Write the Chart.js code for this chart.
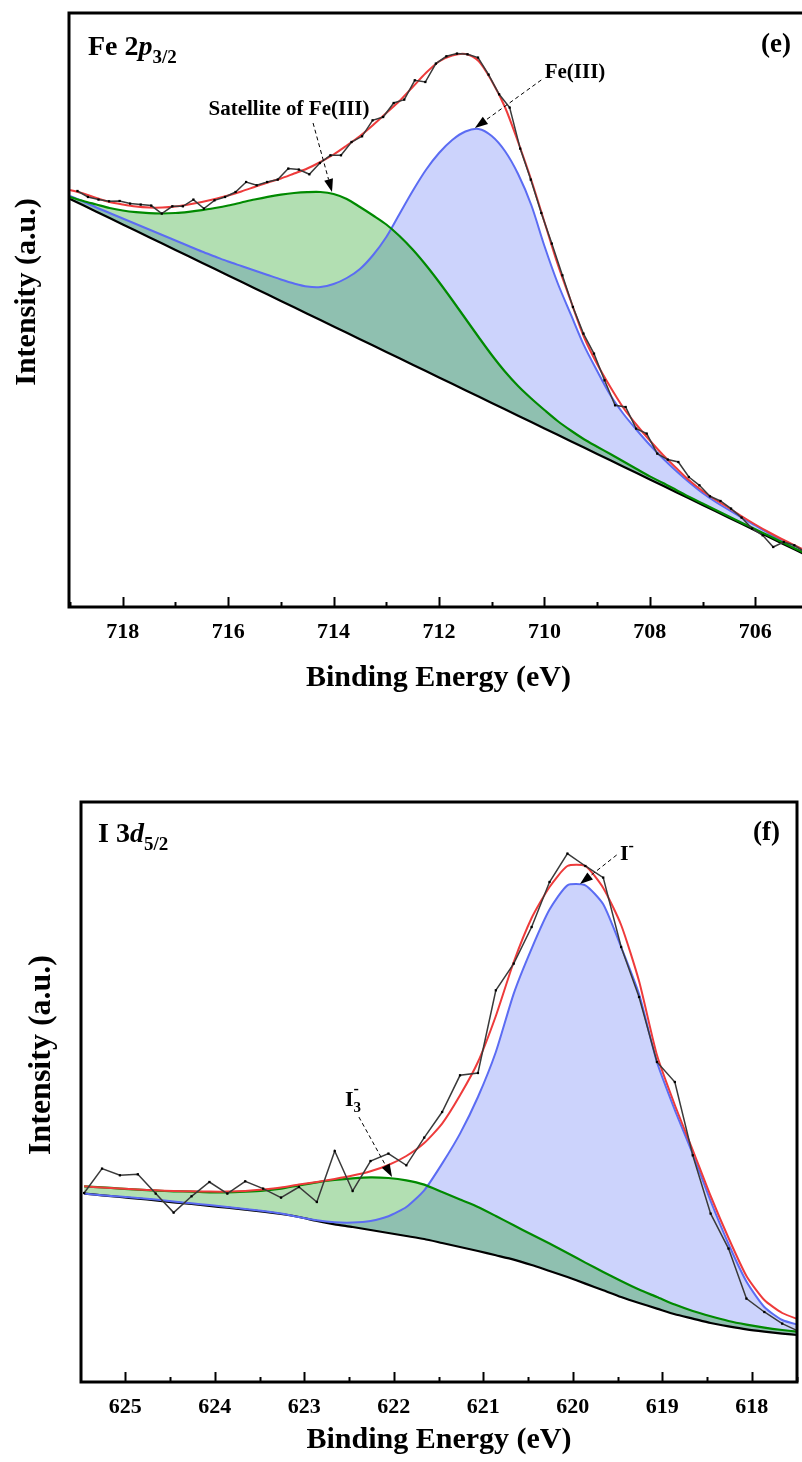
<!DOCTYPE html>
<html lang="en">
<head>
<meta charset="UTF-8">
<title>XPS Fe 2p3/2 and I 3d5/2</title>
<script src="https://cdn.jsdelivr.net/npm/chart.js"></script>
<style>
  html, body { margin: 0; padding: 0; background: #fff; overflow: hidden; }
  body { width: 802px; height: 1462px; position: relative; }
  canvas { position: absolute; left: 0; }
  #feChart { top: 0; }
  #iChart { top: 720px; }
</style>
</head>
<body>
<canvas id="feChart" width="812" height="700"></canvas>
<canvas id="iChart" width="802" height="742"></canvas>

<script>
// ---------- (e) Fe 2p3/2 ----------
const feTicks = [706, 708, 710, 712, 714, 716, 718];
// raw spectrum, 0.2 eV steps
const feRawE = [718.86, 718.66, 718.46, 718.26, 718.06, 717.86, 717.66, 717.46, 717.26, 717.06,
                716.86, 716.66, 716.46, 716.26, 716.06, 715.86, 715.66, 715.46, 715.26, 715.06,
                714.86, 714.66, 714.46, 714.26, 714.06, 713.86, 713.66, 713.46, 713.26, 713.06,
                712.86, 712.66, 712.46, 712.26, 712.06, 711.86, 711.66, 711.46, 711.26, 711.06,
                710.86, 710.66, 710.46, 710.26, 710.06, 709.86, 709.66, 709.46, 709.26, 709.06,
                708.86, 708.66, 708.46, 708.26, 708.06, 707.86, 707.66, 707.46, 707.26, 707.06,
                706.86, 706.66, 706.46, 706.26, 706.06, 705.86, 705.66, 705.46, 705.26, 705.06];
const feRaw = [416, 410, 407.4, 405.7, 406, 403.4, 402.4, 401.4, 393.4, 400.7,
               400.7, 407.4, 398.4, 406.7, 410, 415, 425, 421.7, 425, 427.4,
               438.4, 437.4, 432.7, 444, 451.7, 451.7, 465, 470.7, 486.7, 490,
               504, 507.4, 526.7, 525, 543.4, 550.7, 553.4, 552.7, 549.4, 532.4,
               512.7, 499.4, 458.4, 427.4, 394, 363.4, 331.7, 300, 273.4, 253.4,
               226.7, 201.7, 200, 178.4, 173.4, 153.4, 147.4, 145, 130, 121.7,
               110.7, 106, 98.4, 89.4, 78.4, 71.7, 60, 65, 61.7, 55];
// fitted curves, 0.25 eV steps
const feFitE = [719.0, 718.75, 718.5, 718.25, 718.0, 717.75, 717.5, 717.25, 717.0, 716.75,
                716.5, 716.25, 716.0, 715.75, 715.5, 715.25, 715.0, 714.75, 714.5, 714.25,
                714.0, 713.75, 713.5, 713.25, 713.0, 712.75, 712.5, 712.25, 712.0, 711.75,
                711.5, 711.25, 711.0, 710.75, 710.5, 710.25, 710.0, 709.75, 709.5, 709.25,
                709.0, 708.75, 708.5, 708.25, 708.0, 707.75, 707.5, 707.25, 707.0, 706.75,
                706.5, 706.25, 706.0, 705.75, 705.5, 705.25, 705.0];
const feEnvelope = [417, 413.5, 409, 405, 402.5, 400.5, 399.5, 399.5, 400.5, 402.5,
                    405, 408, 411.5, 415.5, 420, 424.5, 428.5, 433.5, 438.5, 445,
                    452.5, 461.5, 471, 482, 494, 506, 520, 534, 545.5, 551.5,
                    553, 546, 526, 500, 465, 427, 385, 343, 306, 270,
                    243, 220, 199, 182, 166.5, 152, 139, 126.5, 116, 107,
                    99, 90.5, 82.5, 75, 68, 61.5, 55];
const feSatellite = [410, 406, 402.5, 399, 396.5, 394.8, 393.8, 393.5, 394, 395.2,
                     396.8, 399, 401.5, 404.5, 407.5, 410.2, 412.4, 414, 414.9, 415,
                     413, 408, 400, 391.5, 382.5, 371, 357.5, 342, 325, 307,
                     288.5, 270, 252, 235.5, 221, 208.5, 197, 186, 176.5, 167.8,
                     160.3, 153, 145.5, 138, 130.6, 124, 117, 110, 103.5, 97,
                     90.5, 84, 77.8, 71.4, 65, 58.6, 52.2];
const feIII = [411, 405.5, 399.5, 394, 388.5, 383, 377.5, 372, 366.5, 361,
               355.5, 350.5, 345.5, 341, 336.5, 332, 327.5, 323.5, 320.5, 320,
               323, 329, 338, 352, 370, 393, 416, 437, 454, 467,
               475.5, 478, 471, 456, 433, 402, 361, 324, 292.6, 261.6,
               236, 212, 193, 177, 162, 148.5, 136, 124.5, 114, 105,
               97, 89, 81.5, 74, 67, 61, 55];
const feBackground = [408.1, 401.7, 395.3, 388.9, 382.6, 376.2, 369.8, 363.4, 357.1, 350.7,
                      344.3, 337.9, 331.6, 325.2, 318.8, 312.4, 306.1, 299.7, 293.3, 286.9,
                      280.6, 274.2, 267.8, 261.4, 255.1, 248.7, 242.3, 235.9, 229.6, 223.2,
                      216.8, 210.4, 204.1, 197.7, 191.3, 184.9, 178.6, 172.2, 165.8, 159.4,
                      153.1, 146.7, 140.3, 133.9, 127.6, 121.2, 114.8, 108.4, 102.1, 95.7,
                      89.3, 82.9, 76.6, 70.2, 63.8, 57.4, 51.1];

// ---------- (f) I 3d5/2 ----------
const iTicks = [618, 619, 620, 621, 622, 623, 624, 625];
const iE = [625.46, 625.26, 625.06, 624.86, 624.66, 624.46, 624.26, 624.06, 623.86, 623.66,
            623.46, 623.26, 623.06, 622.86, 622.66, 622.46, 622.26, 622.06, 621.86, 621.66,
            621.46, 621.26, 621.06, 620.86, 620.66, 620.46, 620.26, 620.06, 619.86, 619.66,
            619.46, 619.26, 619.06, 618.86, 618.66, 618.46, 618.26, 618.06, 617.86, 617.66, 617.46];
const iRaw = [189, 213.4, 206.7, 207.7, 188.4, 169.4, 185.7, 200, 188.4, 200.7,
              193.4, 184.4, 195, 180, 231, 191, 221, 228.4, 216.7, 244.4,
              270, 306.7, 309, 391.7, 418.4, 455, 500, 528.4, 516, 504.4,
              435, 385, 320, 300, 226.7, 168.4, 133.4, 83.4, 70, 58.4, 50];
const iEnvelope = [195.7, 194.4, 193.4, 192.4, 191.7, 191, 190.7, 190.4, 190.4, 191,
                   192.4, 194.4, 197.4, 200, 203, 206.4, 210.7, 217, 226, 239,
                   258.4, 286.7, 320, 366, 420, 464, 495, 516, 516, 494,
                   457, 401, 327, 277, 232, 186, 144, 106, 82, 69, 62];
const iTriiodide = [195.7, 194.7, 193.4, 192.4, 191.4, 190.7, 190.4, 189.7, 189.7, 190.4,
                    191.4, 193.4, 196.7, 199.7, 202, 203.7, 204.7, 204, 201.7, 197.4,
                    190, 182.4, 175, 166, 156.7, 147.4, 138.4, 129, 119.4, 110,
                    101, 92.4, 85, 77.4, 71, 65.7, 61, 57.4, 54.4, 52, 50];
const iIodide = [188.4, 186.7, 185.4, 184, 182.4, 180.4, 178.7, 177, 175, 173,
                 171, 168.4, 165, 161.7, 159.7, 159.4, 161, 165.7, 175, 191.7,
                 218.4, 248.4, 285, 330, 388.4, 433.4, 472.4, 496.7, 496.7, 477.7,
                 435, 388, 320, 272, 228, 181, 138, 100.5, 75, 62, 56.7];
const iBackground = [188.4, 186.7, 185, 183.4, 181.7, 179.7, 178, 176, 174.4, 172.4,
                     170.4, 168, 165, 161, 157.7, 155, 152, 149, 146, 143,
                     139, 135, 131, 126.7, 122.4, 117, 111, 105, 98.4, 91.7,
                     85, 79, 73.4, 67.7, 63.4, 59, 55.7, 52.7, 50.4, 48.4, 46.7];

const SERIF = "'Liberation Serif', 'Times New Roman', serif";

function pts(xs, ys) {
    return xs.map((x, i) => ({ x: x, y: ys[i] }));
}

// box round the plot and the inward ticks on the bottom axis
const framePlugin = {
    id: 'frame',
    afterDraw(chart, args, opts) {
        const { ctx, chartArea: a } = chart;
        const x = chart.scales.x;
        ctx.save();
        ctx.strokeStyle = '#000';
        ctx.lineWidth = 3;
        ctx.strokeRect(a.left, a.top, a.right - a.left, a.bottom - a.top);
        ctx.lineWidth = 2;
        const n0 = Math.ceil(x.min / opts.minor - 1e-6);
        const n1 = Math.floor(x.max / opts.minor + 1e-6);
        for (let n = n0; n <= n1; n++) {
            const v = n * opts.minor;
            const r = v / opts.major;
            const len = Math.abs(r - Math.round(r)) < 1e-6 ? 10 : 5;
            const px = Math.round(x.getPixelForValue(v)) + 0.5;
            ctx.beginPath();
            ctx.moveTo(px, a.bottom);
            ctx.lineTo(px, a.bottom - len);
            ctx.stroke();
        }
        ctx.restore();
    }
};

// labels, arrows and the rotated y title
const notesPlugin = {
    id: 'notes',
    afterDraw(chart, args, opts) {
        const { ctx } = chart;
        const xs = chart.scales.x, ys = chart.scales.y;
        ctx.save();
        ctx.fillStyle = '#000';
        ctx.strokeStyle = '#000';

        // y title
        const t = opts.yTitle;
        ctx.save();
        ctx.translate(t.x, t.y);
        ctx.rotate(-Math.PI / 2);
        ctx.font = 'bold ' + t.size + 'px ' + SERIF;
        ctx.textAlign = 'center';
        ctx.textBaseline = 'middle';
        ctx.fillText('Intensity (a.u.)', 0, 0);
        ctx.restore();

        // rich texts (canvas coordinates, on the baseline)
        opts.texts.forEach(item => {
            ctx.textBaseline = 'alphabetic';
            ctx.textAlign = 'left';
            let w = 0;
            item.parts.forEach(p => {
                ctx.font = (p.style || 'bold') + ' ' + p.size + 'px ' + SERIF;
                if (!p.stay) w += ctx.measureText(p.t).width;
            });
            let cx = item.align === 'right' ? item.x - w : item.align === 'center' ? item.x - w / 2 : item.x;
            item.parts.forEach(p => {
                ctx.font = (p.style || 'bold') + ' ' + p.size + 'px ' + SERIF;
                ctx.fillText(p.t, cx + (p.dx || 0), item.y + (p.dy || 0));
                if (!p.stay) cx += ctx.measureText(p.t).width;
            });
        });

        // dashed arrows (data coordinates)
        opts.arrows.forEach(ar => {
            const x1 = xs.getPixelForValue(ar.from[0]), y1 = ys.getPixelForValue(ar.from[1]);
            const x2 = xs.getPixelForValue(ar.to[0]), y2 = ys.getPixelForValue(ar.to[1]);
            const ang = Math.atan2(y2 - y1, x2 - x1);
            const head = 13, half = 4.5;
            const bx = x2 - head * Math.cos(ang), by = y2 - head * Math.sin(ang);
            ctx.lineWidth = 1;
            ctx.setLineDash([4, 3]);
            ctx.beginPath();
            ctx.moveTo(x1, y1);
            ctx.lineTo(bx, by);
            ctx.stroke();
            ctx.setLineDash([]);
            ctx.beginPath();
            ctx.moveTo(x2, y2);
            ctx.lineTo(bx + half * Math.sin(ang), by - half * Math.cos(ang));
            ctx.lineTo(bx - half * Math.sin(ang), by + half * Math.cos(ang));
            ctx.closePath();
            ctx.fill();
        });
        ctx.restore();
    }
};

function makePanel(id, cfg) {
    const tension = cfg.tension;
    return new Chart(document.getElementById(id), {
        type: 'line',
        data: {
            datasets: [
                { label: 'Raw', data: pts(cfg.rawE, cfg.raw), borderColor: '#3a3a3a', borderWidth: 1.5,
                  pointRadius: 1.6, pointStyle: 'rect', pointBackgroundColor: '#000', pointBorderWidth: 0,
                  tension: 0, fill: false },
                { label: 'Envelope', data: pts(cfg.fitE, cfg.envelope), borderColor: '#ee3b3b', borderWidth: 2,
                  pointRadius: 0, tension: tension, fill: false },
                { label: cfg.greenLabel, data: pts(cfg.fitE, cfg.green), borderColor: '#008a00', borderWidth: 2.2,
                  pointRadius: 0, tension: tension, fill: 4, backgroundColor: 'rgba(0,150,0,0.3)' },
                { label: cfg.blueLabel, data: pts(cfg.fitE, cfg.blue), borderColor: '#5b6cf3', borderWidth: 2,
                  pointRadius: 0, tension: tension, fill: 4, backgroundColor: 'rgba(100,120,245,0.33)' },
                { label: 'Background', data: pts(cfg.fitE, cfg.bg), borderColor: '#000', borderWidth: 2.2,
                  pointRadius: 0, tension: cfg.bgTension, fill: false }
            ]
        },
        options: {
            responsive: false,
            animation: false,
            devicePixelRatio: 1,
            layout: { padding: cfg.padding },
            plugins: {
                legend: { display: false },
                tooltip: { enabled: false },
                filler: { drawTime: 'beforeDatasetsDraw' },
                frame: { major: cfg.major, minor: cfg.major / 2 },
                notes: { yTitle: cfg.yTitle, texts: cfg.texts, arrows: cfg.arrows }
            },
            scales: {
                x: {
                    type: 'linear',
                    reverse: true,
                    min: cfg.xMin,
                    max: cfg.xMax,
                    afterBuildTicks: s => { s.ticks = cfg.ticks.map(v => ({ value: v })); },
                    afterFit: s => {
                        s.height = cfg.xHeight;
                        s.paddingLeft = 0;
                        s.paddingRight = 0;
                    },
                    grid: { display: false, drawTicks: false },
                    border: { display: false },
                    ticks: {
                        autoSkip: false,
                        maxRotation: 0,
                        padding: 12,
                        color: '#000',
                        font: { family: SERIF, weight: 'bold', size: 22 }
                    },
                    title: {
                        display: true,
                        text: 'Binding Energy (eV)',
                        color: '#000',
                        font: { family: SERIF, weight: 'bold', size: 30 },
                        padding: { top: 0, bottom: 4 }
                    }
                },
                y: { display: false, min: 0, max: cfg.yMax }
            }
        },
        plugins: [framePlugin, notesPlugin]
    });
}

makePanel('feChart', {
    rawE: feRawE, raw: feRaw,
    fitE: feFitE, envelope: feEnvelope, green: feSatellite, blue: feIII, bg: feBackground,
    greenLabel: 'Satellite of Fe(III)', blueLabel: 'Fe(III)',
    tension: 0.3, bgTension: 0,
    ticks: feTicks, major: 2,
    xMin: 705, xMax: 719.02, yMax: 594, xHeight: 93,
    padding: { left: 69, top: 13, right: 3, bottom: 0 },
    yTitle: { x: 27, y: 292, size: 30 },
    texts: [
        { x: 88, y: 55, parts: [
            { t: 'Fe 2', size: 28 },
            { t: 'p', size: 28, style: 'italic bold' },
            { t: '3/2', size: 19, dy: 8 } ] },
        { x: 791, y: 52, align: 'right', parts: [ { t: '(e)', size: 27 } ] },
        { x: 289, y: 115, align: 'center', parts: [ { t: 'Satellite of Fe(III)', size: 21 } ] },
        { x: 575, y: 78, align: 'center', parts: [ { t: 'Fe(III)', size: 21 } ] }
    ],
    arrows: [
        { from: [714.39, 484], to: [714.03, 415] },
        { from: [710.06, 527], to: [711.32, 479] }
    ]
});

makePanel('iChart', {
    rawE: iE, raw: iRaw,
    fitE: iE, envelope: iEnvelope, green: iTriiodide, blue: iIodide, bg: iBackground,
    greenLabel: 'I3-', blueLabel: 'I-',
    tension: 0.2, bgTension: 0.2,
    ticks: iTicks, major: 1,
    xMin: 617.495, xMax: 625.495, yMax: 580, xHeight: 80,
    padding: { left: 81, top: 82, right: 5, bottom: 0 },
    yTitle: { x: 42, y: 335, size: 32 },
    texts: [
        { x: 98, y: 122, parts: [
            { t: 'I 3', size: 28 },
            { t: 'd', size: 28, style: 'italic bold' },
            { t: '5/2', size: 19, dy: 8 } ] },
        { x: 780, y: 120, align: 'right', parts: [ { t: '(f)', size: 27 } ] },
        { x: 620, y: 140, parts: [
            { t: 'I', size: 22 },
            { t: '-', size: 16, dy: -9 } ] },
        { x: 345, y: 386, parts: [
            { t: 'I', size: 22 },
            { t: '-', size: 16, dy: -12, stay: true },
            { t: '3', size: 15, dy: 6 } ] }
    ],
    arrows: [
        { from: [619.51, 527], to: [619.92, 498] },
        { from: [622.39, 265], to: [622.02, 205] }
    ]
});
</script>
</body>
</html>
